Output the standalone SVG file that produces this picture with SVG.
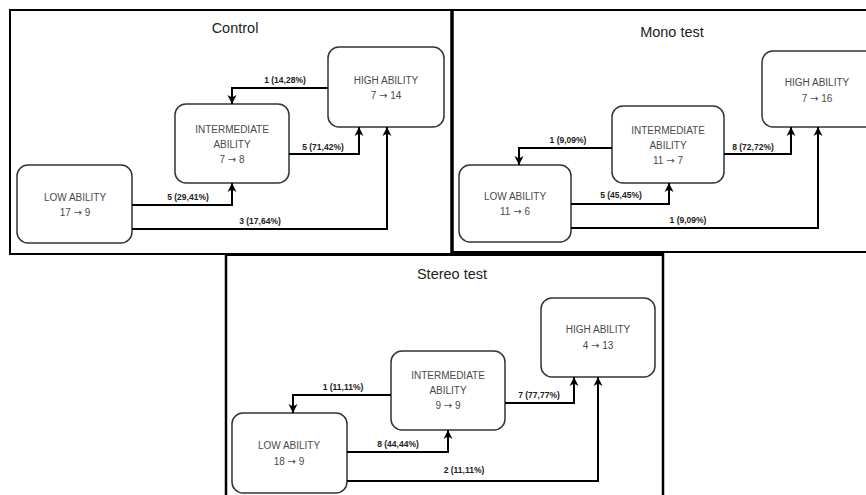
<svg xmlns="http://www.w3.org/2000/svg" width="866" height="495" viewBox="0 0 866 495">
<style>
.panel{fill:none;stroke:#000;stroke-width:2}
.node rect{fill:#fff;stroke:#333;stroke-width:1.5}
.node text{font-family:"Liberation Sans",Arial,sans-serif;font-size:10px;fill:#4a4a4a;text-anchor:middle}
.ar{font-family:"DejaVu Sans",sans-serif;font-size:10px}
.title{font-family:"Liberation Sans",Arial,sans-serif;font-size:14.5px;fill:#222;text-anchor:middle}
.conn path{fill:none;stroke:#000;stroke-width:2;marker-end:url(#ah)}
.lbl{font-family:"Liberation Sans",Arial,sans-serif;font-size:8.5px;font-weight:bold;fill:#222;text-anchor:middle}
</style>
<defs>
<marker id="ah" markerUnits="userSpaceOnUse" markerWidth="10" markerHeight="10" refX="9" refY="5" orient="auto">
<path d="M0,0.5 L9,5 L0,9.5 L2.5,5 z" fill="#000"/>
</marker>
</defs>
<rect width="866" height="495" fill="#fff"/>
<g id="panels">
<rect class="panel" x="10" y="10" width="442" height="244"/>
<line x1="452" y1="10" x2="866" y2="10" stroke="#000" stroke-width="2"/>
<line x1="452" y1="252" x2="866" y2="252" stroke="#000" stroke-width="2"/>
<line x1="452" y1="9" x2="452" y2="254" stroke="#000" stroke-width="3.5"/>
<line x1="226" y1="254.5" x2="663" y2="254.5" stroke="#000" stroke-width="3"/>
<line x1="226" y1="254" x2="226" y2="495" stroke="#000" stroke-width="2.5"/>
<line x1="663" y1="253" x2="663" y2="495" stroke="#000" stroke-width="2.5"/>
</g>
<text class="title" x="235" y="33">Control</text>
<text class="title" x="672" y="37">Mono test</text>
<text class="title" x="452" y="279">Stereo test</text>

<g id="c-low" class="node"><rect x="17" y="165" width="115" height="78" rx="11"/><text x="75" y="201">LOW ABILITY</text><text x="75" y="216">17 <tspan class="ar">→</tspan> 9</text></g>
<g id="c-int" class="node"><rect x="175" y="104" width="114" height="79" rx="11"/><text x="232" y="133">INTERMEDIATE</text><text x="232" y="148">ABILITY</text><text x="232" y="163">7 <tspan class="ar">→</tspan> 8</text></g>
<g id="c-high" class="node"><rect x="328" y="47" width="116" height="80" rx="11"/><text x="386" y="84">HIGH ABILITY</text><text x="386" y="99">7 <tspan class="ar">→</tspan> 14</text></g>

<g id="m-low" class="node"><rect x="459" y="165" width="112" height="77" rx="11"/><text x="515" y="200">LOW ABILITY</text><text x="515" y="215">11 <tspan class="ar">→</tspan> 6</text></g>
<g id="m-int" class="node"><rect x="612" y="106" width="112" height="77" rx="11"/><text x="668" y="134">INTERMEDIATE</text><text x="668" y="149">ABILITY</text><text x="668" y="164">11 <tspan class="ar">→</tspan> 7</text></g>
<g id="m-high" class="node"><rect x="762" y="51" width="114" height="76" rx="11"/><text x="817" y="86">HIGH ABILITY</text><text x="817" y="102">7 <tspan class="ar">→</tspan> 16</text></g>

<g id="s-low" class="node"><rect x="232" y="413" width="115" height="80" rx="11"/><text x="289" y="449">LOW ABILITY</text><text x="289" y="465">18 <tspan class="ar">→</tspan> 9</text></g>
<g id="s-int" class="node"><rect x="391" y="351" width="114" height="79" rx="11"/><text x="448" y="379">INTERMEDIATE</text><text x="448" y="394">ABILITY</text><text x="448" y="409">9 <tspan class="ar">→</tspan> 9</text></g>
<g id="s-high" class="node"><rect x="541" y="298" width="114" height="79" rx="11"/><text x="598" y="333">HIGH ABILITY</text><text x="598" y="349">4 <tspan class="ar">→</tspan> 13</text></g>

<g id="connectors" class="conn">
<path d="M328,88 H232 V104"/>
<path d="M289,154 H359 V127"/>
<path d="M132,205 H232 V183"/>
<path d="M132,229 H387 V127"/>

<path d="M612,148 H519 V165"/>
<path d="M724,154 H791 V127"/>
<path d="M571,204 H669 V183"/>
<path d="M571,228 H818 V127"/>

<path d="M391,395 H293 V413"/>
<path d="M505,403 H574 V377"/>
<path d="M347,452 H448 V430"/>
<path d="M347,481 H598 V377"/>
</g>
<g id="labels">
<text class="lbl" x="285" y="83">1 (14,28%)</text>
<text class="lbl" x="323" y="150">5 (71,42%)</text>
<text class="lbl" x="188" y="200">5 (29,41%)</text>
<text class="lbl" x="260" y="224">3 (17,64%)</text>

<text class="lbl" x="568" y="143">1 (9,09%)</text>
<text class="lbl" x="753" y="150">8 (72,72%)</text>
<text class="lbl" x="621" y="198">5 (45,45%)</text>
<text class="lbl" x="688" y="223">1 (9,09%)</text>

<text class="lbl" x="343" y="390">1 (11,11%)</text>
<text class="lbl" x="539" y="398">7 (77,77%)</text>
<text class="lbl" x="398" y="447">8 (44,44%)</text>
<text class="lbl" x="464" y="473">2 (11,11%)</text>
</g>
</svg>
